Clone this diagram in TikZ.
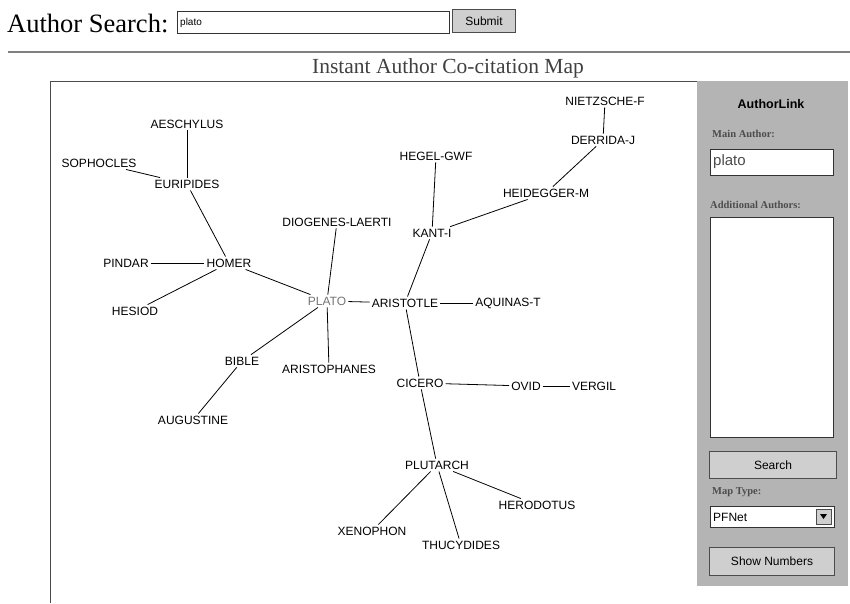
\documentclass[tikz,border=0pt]{standalone}
\usepackage{fontspec}
\setmainfont{Liberation Serif}
\newfontfamily\mapfont{Liberation Sans}
\usepackage{xcolor}
\definecolor{panelgray}{HTML}{B4B4B4}
\definecolor{btngray}{HTML}{CFCFCF}

\begin{document}
\begin{tikzpicture}[x=1pt,y=-1pt,
    author/.style={font=\mapfont\fontsize{12}{13}\selectfont,inner sep=2pt},
    link/.style={black,line width=0.8pt},
    btn/.style={draw=black!70,fill=btngray,line width=0.8pt,font=\mapfont\fontsize{12}{13}\selectfont}]
   \useasboundingbox (0,0) rectangle (850,603);
   % search bar
   \node[anchor=west,inner sep=0pt,font=\fontsize{26.5}{28}\selectfont](search) at (7,23){Author Search:};
   \draw[black!80,fill=white,line width=0.8pt] (177,11) rectangle (449,33);
   \node[anchor=west,inner sep=0pt,font=\mapfont\fontsize{10}{12}\selectfont](query) at (180,23){plato};
   \node[btn,minimum width=63pt,minimum height=23pt,inner sep=0pt](submit) at (484,21){Submit};
   \draw[gray,line width=1.2pt] (8,52) -- (850,52);
   \node[font=\fontsize{21.5}{23}\selectfont,text=black!75](title) at (448,68){Instant Author Co-citation Map};
   % map frame
   \draw[black!70,line width=0.8pt] (50,603) -- (50,81) -- (697,81);
   % side panel
   \fill[panelgray] (697,81) rectangle (848,586);
   \node[font=\mapfont\bfseries\fontsize{12.5}{14}\selectfont](alink) at (771,104){AuthorLink};
   \node[anchor=west,font=\bfseries\fontsize{10.5}{12}\selectfont,text=black!70,inner sep=0pt](mainlbl) at (712,134){Main Author:};
   \draw[black!80,fill=white,line width=1pt] (710,149) rectangle (833,175);
   \node[anchor=west,font=\mapfont\fontsize{15}{17}\selectfont,text=black!70,inner sep=0pt](mainval) at (713,162){plato};
   \node[anchor=west,font=\bfseries\fontsize{10.5}{12}\selectfont,text=black!70,inner sep=0pt](addlbl) at (710,205){Additional Authors:};
   \draw[black!80,fill=white,line width=1pt] (710,217) rectangle (833,437);
   \node[btn,minimum width=127pt,minimum height=27pt,inner sep=0pt](searchbtn) at (773,465){Search};
   \node[anchor=west,font=\bfseries\fontsize{10.5}{12}\selectfont,text=black!70,inner sep=0pt](maptype) at (712,492){Map Type:};
   \draw[black!80,fill=white,line width=1pt] (710,506) rectangle (834,527);
   \node[anchor=west,font=\mapfont\fontsize{12}{13}\selectfont,inner sep=0pt](pfnet) at (713,517){PFNet};
   \draw[black!70,fill=btngray] (816,509) rectangle (831,524);
   \fill[black] (820,514) -- (827,514) -- (823.5,519) -- cycle;
   \node[btn,minimum width=125pt,minimum height=28pt,inner sep=0pt](shownum) at (772,561){Show Numbers};
   % authors
   \node[author](nietz) at (605,101){NIETZSCHE-F};
   \node[author](derrida) at (603,140){DERRIDA-J};
   \node[author](hegel) at (436,156){HEGEL-GWF};
   \node[author](heid) at (546,193){HEIDEGGER-M};
   \node[author](aesch) at (187,124){AESCHYLUS};
   \node[author](soph) at (99,163){SOPHOCLES};
   \node[author](eurip) at (187,184){EURIPIDES};
   \node[author](diog) at (337,222){DIOGENES-LAERTI};
   \node[author](kant) at (432,233){KANT-I};
   \node[author](pindar) at (126,263){PINDAR};
   \node[author](homer) at (229,263){HOMER};
   \node[author](hesiod) at (135,311){HESIOD};
   \node[author,text=black!55](plato) at (327,301){PLATO};
   \node[author](arist) at (405,303){ARISTOTLE};
   \node[author](aquinas) at (508,303){AQUINAS-T};
   \node[author](bible) at (242,361){BIBLE};
   \node[author](aristoph) at (329,369){ARISTOPHANES};
   \node[author](cicero) at (420,383){CICERO};
   \node[author](ovid) at (526,386){OVID};
   \node[author](vergil) at (594,386){VERGIL};
   \node[author](august) at (193,420){AUGUSTINE};
   \node[author](plut) at (437,465){PLUTARCH};
   \node[author](herod) at (537,505){HERODOTUS};
   \node[author](xeno) at (372,531){XENOPHON};
   \node[author](thucy) at (461,545){THUCYDIDES};
   % links
   \draw[link] (nietz) -- (derrida);
   \draw[link] (derrida) -- (heid);
   \draw[link] (heid) -- (kant);
   \draw[link] (hegel) -- (kant);
   \draw[link] (kant) -- (arist);
   \draw[link] (aesch) -- (eurip);
   \draw[link] (soph) -- (eurip);
   \draw[link] (eurip) -- (homer);
   \draw[link] (pindar) -- (homer);
   \draw[link] (hesiod) -- (homer);
   \draw[link] (homer) -- (plato);
   \draw[link] (diog) -- (plato);
   \draw[link] (plato) -- (arist);
   \draw[link] (arist) -- (aquinas);
   \draw[link] (arist) -- (cicero);
   \draw[link] (plato) -- (bible);
   \draw[link] (plato) -- (aristoph);
   \draw[link] (bible) -- (august);
   \draw[link] (cicero) -- (ovid);
   \draw[link] (ovid) -- (vergil);
   \draw[link] (cicero) -- (plut);
   \draw[link] (plut) -- (xeno);
   \draw[link] (plut) -- (thucy);
   \draw[link] (plut) -- (herod);
\end{tikzpicture}
\end{document}
